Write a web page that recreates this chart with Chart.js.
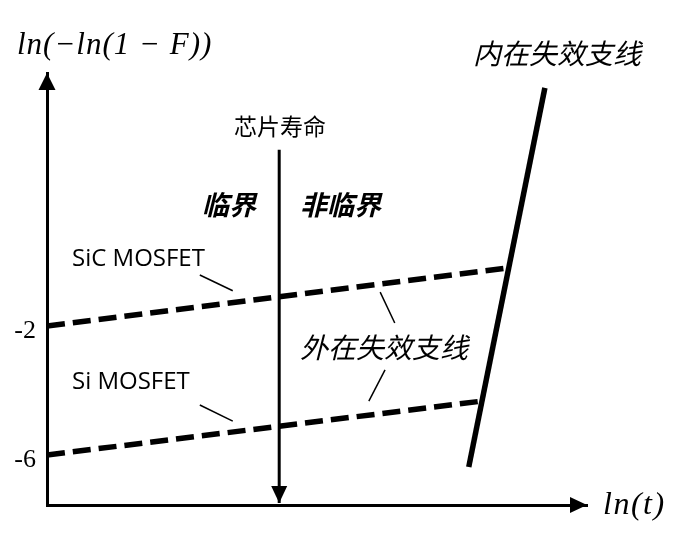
<!DOCTYPE html>
<html lang="zh">
<head>
<meta charset="UTF-8">
<title>失效支线示意图</title>
<style>
  body { margin: 0; background: #fff; }
  .chart-box { width: 673px; height: 538px; position: relative; }
</style>
<script src="https://cdn.jsdelivr.net/npm/chart.js"></script>
</head>
<body>
<div class="chart-box"><canvas id="failChart"></canvas></div>
<script>
// x = ln(t), y = ln(-ln(1-F)); arbitrary units
const sicLine = [[0, -2], [8.55, -0.2]];
const siLine = [[0, -6], [8.05, -4.33]];
const intrinsicLine = [[7.81, -6.37], [9.22, 5.38]];
const lifeArrow = [[4.30, 3.46], [4.30, -7.49]];
const leaderLines = [
  [[2.83, -0.42], [3.44, -0.91]],
  [[2.83, -4.45], [3.44, -4.95]],
  [[6.17, -0.95], [6.44, -1.91]],
  [[6.26, -3.36], [5.96, -4.33]]
];
const yTicks = [-2, -6];
const yTickLabels = ['-2', '-6'];
const xRange = [0, 10];
const yRange = [-7.55, 5.84];

const toPts = arr => arr.map(p => ({ x: p[0], y: p[1] }));

// text labels, pixel positions (left edge, vertical middle)
const labels = [
  { text: 'ln(\u2212ln(1 \u2212 F))', x: 17, y: 46, font: 'italic 31px "Liberation Serif"', spacing: '1px' },
  { text: '内在失效支线', x: 473, y: 53, font: 'italic 28px "Noto Sans CJK SC"' },
  { text: '芯片寿命', x: 234, y: 126, font: '23px "Noto Sans CJK SC"' },
  { text: '临界', x: 202, y: 205, font: 'italic bold 27px "Noto Sans CJK SC"' },
  { text: '非临界', x: 300, y: 205, font: 'italic bold 27px "Noto Sans CJK SC"' },
  { text: 'SiC MOSFET', x: 72, y: 259, font: '24px "Open Sans"' },
  { text: 'Si MOSFET', x: 72, y: 382, font: '24px "Open Sans"' },
  { text: '外在失效支线', x: 300, y: 347, font: 'italic 28px "Noto Sans CJK SC"' },
  { text: 'ln(t)', x: 603, y: 506, font: 'italic 32px "Liberation Serif"', spacing: '1.5px' }
];

function arrowHead(ctx, tx, ty, dir, len, half) {
  // dir: unit vector pointing toward the tip
  const bx = tx - dir[0] * len, by = ty - dir[1] * len;
  ctx.beginPath();
  ctx.moveTo(tx, ty);
  ctx.lineTo(bx - dir[1] * half, by + dir[0] * half);
  ctx.lineTo(bx + dir[1] * half, by - dir[0] * half);
  ctx.closePath();
  ctx.fill();
}

const sketchPlugin = {
  id: 'sketch',
  afterDraw(chart) {
    const { ctx, chartArea, scales } = chart;
    ctx.save();
    ctx.fillStyle = '#000';
    // axis arrows
    arrowHead(ctx, chartArea.left, chartArea.top, [0, -1], 17, 8.5);
    arrowHead(ctx, chartArea.right, chartArea.bottom, [1, 0], 17, 8);
    // chip life arrow
    const end = lifeArrow[lifeArrow.length - 1];
    arrowHead(ctx, scales.x.getPixelForValue(end[0]), scales.y.getPixelForValue(end[1]), [0, 1], 17, 8);
    // labels
    ctx.textBaseline = 'middle';
    ctx.textAlign = 'left';
    labels.forEach(l => {
      ctx.font = l.font;
      ctx.letterSpacing = l.spacing || '0px';
      ctx.fillText(l.text, l.x, l.y);
    });
    ctx.restore();
  }
};

const lineSet = (pts, width, dash) => ({
  type: 'line',
  data: toPts(pts),
  borderColor: '#000',
  borderWidth: width,
  borderDash: dash || [],
  borderCapStyle: 'butt',
  pointRadius: 0,
  fill: false,
  tension: 0
});

const datasets = [
  lineSet(sicLine, 5.5, [18, 8]),
  lineSet(siLine, 5.5, [18, 8]),
  lineSet(intrinsicLine, 5.5),
  lineSet(lifeArrow, 3)
].concat(leaderLines.map(l => lineSet(l, 1.5)));

new Chart(document.getElementById('failChart'), {
  type: 'scatter',
  data: { datasets },
  options: {
    responsive: true,
    maintainAspectRatio: false,
    animation: false,
    layout: { padding: { top: 73, right: 86, bottom: 33, left: 0 } },
    plugins: { legend: { display: false }, tooltip: { enabled: false } },
    scales: {
      x: {
        type: 'linear',
        min: xRange[0],
        max: xRange[1],
        grid: { display: false, drawTicks: false },
        border: { display: true, color: '#000', width: 3 },
        ticks: { display: false },
        afterFit: s => { s.height = 0; }
      },
      y: {
        type: 'linear',
        min: yRange[0],
        max: yRange[1],
        grid: { display: false, drawTicks: false },
        border: { display: true, color: '#000', width: 3 },
        afterBuildTicks: s => { s.ticks = yTicks.map(v => ({ value: v })); },
        afterFit: s => { s.width = 47; },
        ticks: {
          color: '#000',
          padding: 11,
          labelOffset: 5,
          font: { family: 'Liberation Serif', size: 26, lineHeight: 1.0 },
          callback: v => yTickLabels[yTicks.indexOf(v)]
        }
      }
    }
  },
  plugins: [sketchPlugin]
});
</script>
</body>
</html>
